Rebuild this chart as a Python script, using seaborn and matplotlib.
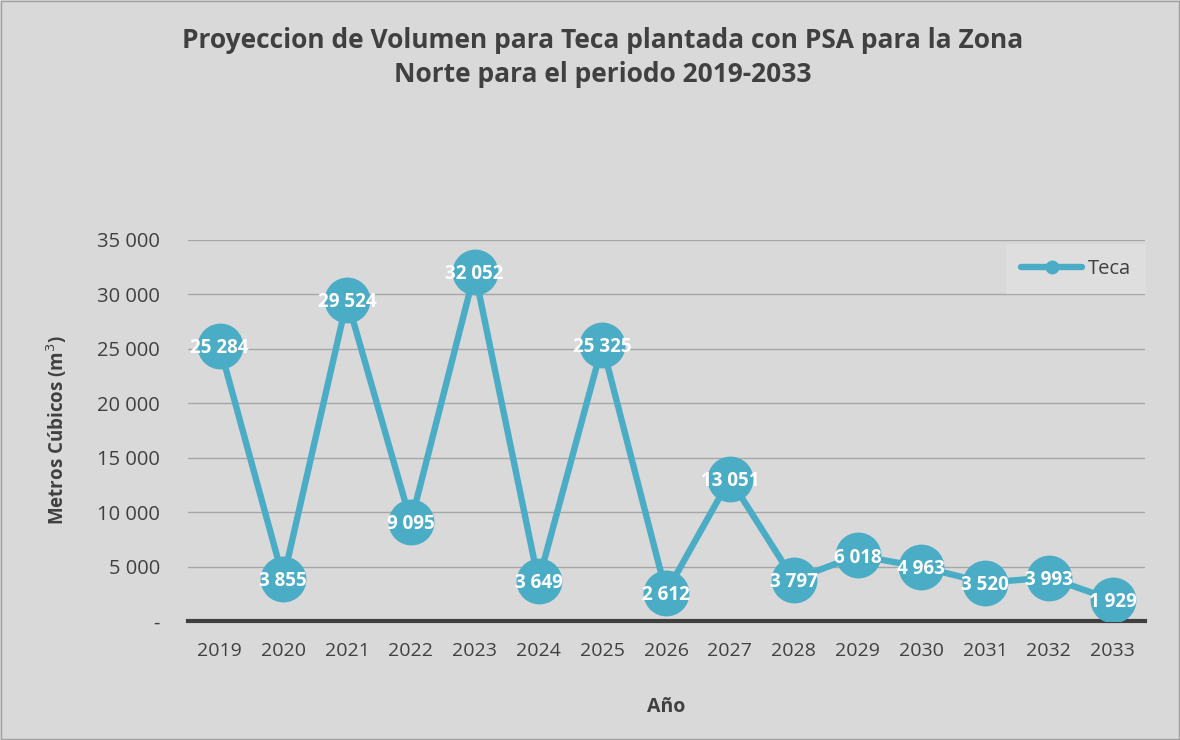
import matplotlib
matplotlib.use("Agg")
import matplotlib.pyplot as plt
import seaborn as sns
import pandas as pd
from matplotlib.lines import Line2D

years = ["2019", "2020", "2021", "2022", "2023", "2024", "2025", "2026",
         "2027", "2028", "2029", "2030", "2031", "2032", "2033"]
volumes = [25284, 3855, 29524, 9095, 32052, 3649, 25325, 2612,
           13051, 3797, 6018, 4963, 3520, 3993, 1929]
yticks = [0, 5000, 10000, 15000, 20000, 25000, 30000, 35000]
series_name = "Teca"
title = "Proyeccion de Volumen para Teca plantada con PSA para la Zona\nNorte para el periodo 2019-2033"
ylabel = "Metros Cúbicos (m$^3$)"
xlabel = "Año"

sns.set_theme(style="white")
plt.rcParams['font.family'] = ['Open Sans', 'DejaVu Sans']

BG = "#d9d9d9"
LINE = "#4bacc6"
TXT = "#404040"

fig = plt.figure(figsize=(11.8, 7.4), dpi=100, facecolor=BG)
ax = fig.add_axes([0.159, 0.1608, 0.811, 0.5149])
ax.set_facecolor(BG)

df = pd.DataFrame({"idx": range(len(years)), "vol": volumes})
sns.lineplot(data=df, x="idx", y="vol", ax=ax, color=LINE, linewidth=4.6,
             marker="o", markersize=33, markeredgewidth=0, zorder=3)

def fmt(v):
    return "-" if v == 0 else f"{v:,}".replace(",", " ")

for i, v in enumerate(volumes):
    ax.text(i, v - 200, fmt(v), ha="center", va="center", color="white",
            fontsize=13.5, fontweight="bold", zorder=4)

ax.set_xlim(-0.5, len(years) - 0.5)
ax.set_ylim(0, 35000)
ax.set_xticks(range(len(years)))
ax.set_xticklabels(years)
ax.set_yticks(yticks)
ax.set_yticklabels([fmt(t) for t in yticks])
ax.tick_params(axis="x", length=0, labelsize=14, labelcolor=TXT, pad=15)
ax.tick_params(axis="y", length=0, labelsize=14.5, labelcolor=TXT, pad=20)
ax.yaxis.grid(True, color="#a6a6a6", linewidth=1)
ax.set_axisbelow(True)
for s in ["top", "right", "left"]:
    ax.spines[s].set_visible(False)
ax.spines["bottom"].set_color(TXT)
ax.spines["bottom"].set_linewidth(3)
ax.spines["bottom"].set_zorder(2)

ax.set_xlabel(xlabel, fontsize=14, fontweight="bold", color=TXT, labelpad=27)
ax.set_ylabel(ylabel, fontsize=13.5, fontweight="bold", color=TXT, labelpad=20)

fig.text(0.511, 0.922, title, ha="center", va="center", fontsize=19,
         fontweight="bold", color=TXT, linespacing=1.35)

handle = Line2D([0], [0], color=LINE, linewidth=4.6, marker="o", markersize=9)
leg = fig.legend([handle], [series_name], loc="center",
                 bbox_to_anchor=(0.912, 0.636), frameon=True, fontsize=14.5,
                 handlelength=3.0, borderpad=0.75, handletextpad=0.3,
                 borderaxespad=0, fancybox=False)
leg.get_frame().set_facecolor("#e0e0e0")
leg.get_frame().set_edgecolor("none")
for t in leg.get_texts():
    t.set_color(TXT)

border = plt.Rectangle((0.001, 0.001), 0.998, 0.998, transform=fig.transFigure,
                       fill=False, edgecolor="#a0a0a0", linewidth=1)
fig.patches.append(border)

fig.savefig("out.png", dpi=100, facecolor=BG)
